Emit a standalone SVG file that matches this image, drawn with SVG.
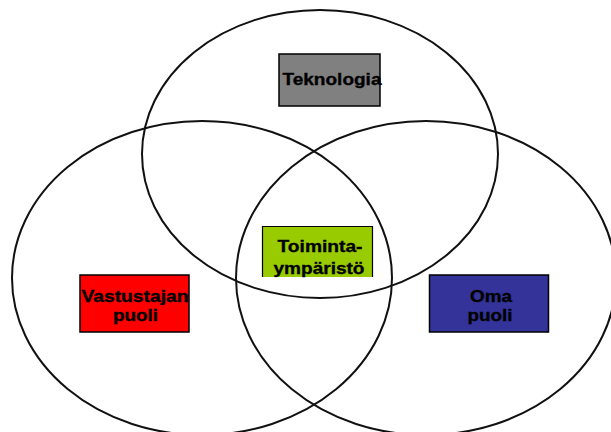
<svg xmlns="http://www.w3.org/2000/svg" width="611" height="432" viewBox="0 0 611 432">
<style>
.circ{fill:none;stroke:#111;stroke-width:2}
.box{stroke:#000;stroke-width:1.5}
.lbl{font-family:"Liberation Sans",Arial,sans-serif;font-weight:bold;font-size:17px;fill:#000;stroke:#000;stroke-width:0.35;text-anchor:middle}
</style>
<rect width="611" height="432" fill="#fff"/>
<g id="connectors">
<ellipse class="circ" cx="320" cy="154" rx="178" ry="144"/>
<ellipse class="circ" cx="202" cy="278" rx="190" ry="157"/>
<ellipse class="circ" cx="426" cy="278" rx="190" ry="157"/>
</g>
<g id="teknologia">
<rect class="box" x="279" y="54" width="101" height="52" fill="#808080"/>
<text class="lbl" x="332" y="85" textLength="99" lengthAdjust="spacingAndGlyphs">Teknologia</text>
</g>
<g id="toimintaymparisto">
<rect x="262" y="226" width="111" height="51" fill="#99CC00"/>
<polyline points="262.5,277 262.5,226.5 372.5,226.5 372.5,277" fill="none" stroke="#000" stroke-width="1.2"/>
<text class="lbl" x="320" y="252" textLength="85" lengthAdjust="spacingAndGlyphs">Toiminta-</text>
<text class="lbl" x="319" y="273.5" textLength="91" lengthAdjust="spacingAndGlyphs">ympäristö</text>
</g>
<g id="vastustajan">
<rect class="box" x="80" y="275" width="109" height="57" fill="#FF0000"/>
<text class="lbl" x="135" y="302" textLength="107" lengthAdjust="spacingAndGlyphs">Vastustajan</text>
<text class="lbl" x="135.5" y="320.5" textLength="45" lengthAdjust="spacingAndGlyphs">puoli</text>
</g>
<g id="oma">
<rect class="box" x="429.5" y="275" width="119" height="57" fill="#333399"/>
<text class="lbl" x="491" y="302" textLength="42" lengthAdjust="spacingAndGlyphs">Oma</text>
<text class="lbl" x="490" y="320.5" textLength="45" lengthAdjust="spacingAndGlyphs">puoli</text>
</g>
</svg>
